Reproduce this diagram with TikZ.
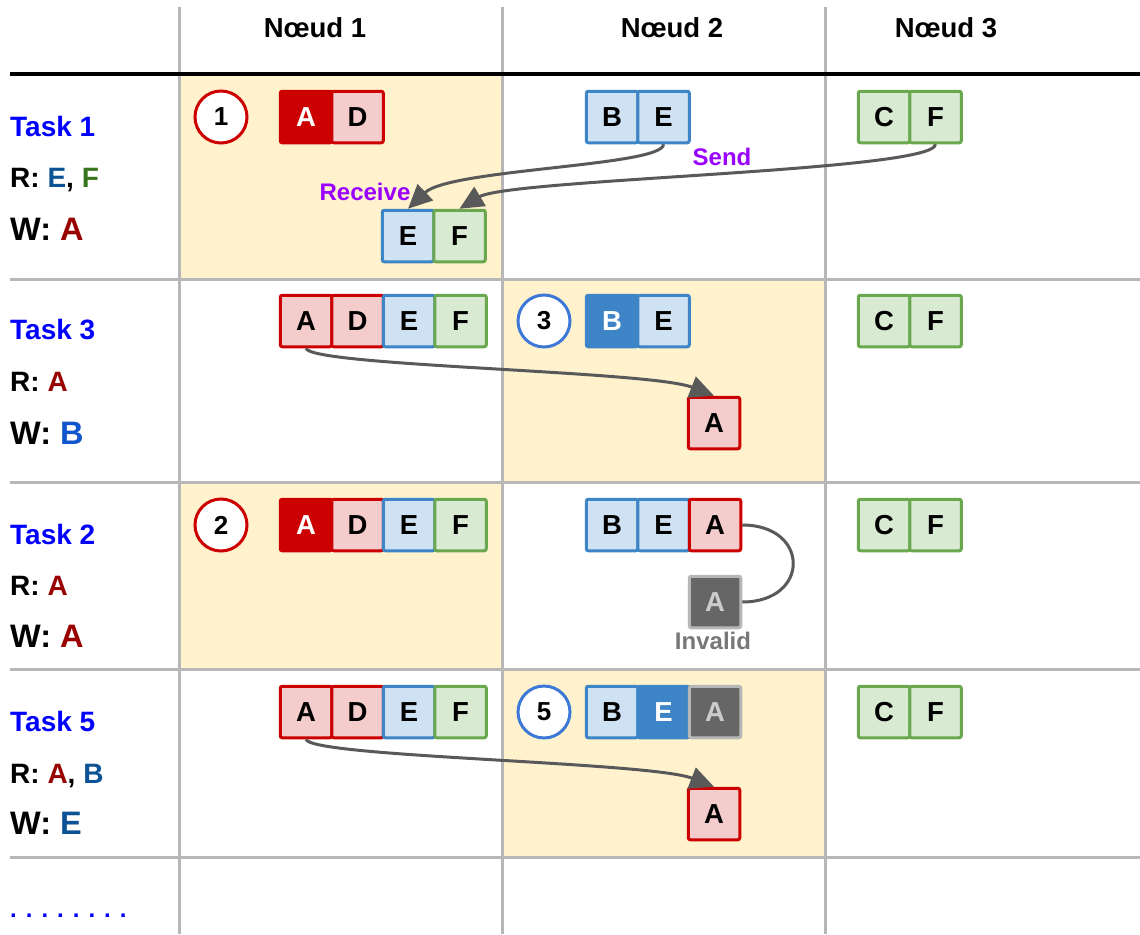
\documentclass[tikz,border=0pt]{standalone}
\usepackage{fontspec}
\setmainfont{Liberation Sans}
\usetikzlibrary{arrows.meta}
\definecolor{redS}{HTML}{CC0000}
\definecolor{redF}{HTML}{F4CCCC}
\definecolor{blueS}{HTML}{3D85C6}
\definecolor{blueF}{HTML}{CFE2F3}
\definecolor{greenS}{HTML}{6AA84F}
\definecolor{greenF}{HTML}{D9EAD3}
\definecolor{greyF}{HTML}{666666}
\definecolor{greyS}{HTML}{B7B7B7}
\definecolor{greyT}{HTML}{CCCCCC}
\definecolor{cellY}{HTML}{FFF2CC}
\definecolor{gridC}{HTML}{B7B7B7}
\definecolor{arrowC}{HTML}{595959}
\definecolor{purpleC}{HTML}{9900FF}
\definecolor{taskC}{HTML}{0000FF}
\definecolor{darkredC}{HTML}{990000}
\definecolor{dblueC}{HTML}{0B5394}
\definecolor{bblueC}{HTML}{1155CC}
\definecolor{dgreenC}{HTML}{38761D}
\definecolor{circB}{HTML}{3C78D8}
\definecolor{invC}{HTML}{777777}
\newcommand\fsz[1]{\fontsize{#1}{#1}\selectfont}
\tikzset{
  cellbox/.style={minimum size=51.5pt, inner sep=0pt, line width=3pt, rounded corners=2pt, font=\fsz{27.5}\bfseries},
  rl/.style={cellbox, draw=redS, fill=redF},
  rd/.style={cellbox, draw=redS, fill=redS, text=white},
  bl/.style={cellbox, draw=blueS, fill=blueF},
  bd/.style={cellbox, draw=blueS, fill=blueS, text=white},
  gl/.style={cellbox, draw=greenS, fill=greenF},
  gr/.style={cellbox, draw=greyS, fill=greyF, text=greyT},
  circ/.style={circle, minimum size=52pt, inner sep=0pt, line width=3pt, fill=white, font=\fsz{26}\bfseries},
  lbl/.style={anchor=base west, inner sep=0pt, font=\fsz{28}\bfseries},
  wlbl/.style={anchor=base west, inner sep=0pt, font=\fsz{32.5}\bfseries},
  hdr/.style={inner sep=0pt, font=\fsz{27.5}\bfseries},
  note/.style={inner sep=0pt, font=\fsz{24}\bfseries},
  gridline/.style={draw=gridC, line width=3pt},
  conn/.style={draw=arrowC, line width=3pt, -{Triangle[length=24pt,width=22pt]}},
  plainconn/.style={draw=arrowC, line width=3pt}
}
\begin{document}
\begin{tikzpicture}[x=1pt,y=-1pt]
\useasboundingbox (0,0) rectangle (1140,934);
\fill[white] (0,0) rectangle (1140,934);
% shaded cells
\fill[cellY] (179.5,74) rectangle (502,279);
\fill[cellY] (502,279) rectangle (825,482.5);
\fill[cellY] (179.5,482.5) rectangle (502,669.5);
\fill[cellY] (502,669.5) rectangle (825,857);
% grid
\foreach \gx in {179.5,502,825} \draw[gridline] (\gx,7) -- (\gx,934);
\foreach \gy in {279,482.5,669.5,857} \draw[gridline] (10,\gy) -- (1140,\gy);
\draw[line width=3pt, black] (10,74) -- (1140,74);
% headers
\node[hdr] (h1) at (315,28) {Nœud 1};
\node[hdr] (h2) at (672,28) {Nœud 2};
\node[hdr] (h3) at (946,28) {Nœud 3};
% left labels
\node[lbl, text=taskC] (t1) at (10,136) {Task 1};
\node[lbl] (r1) at (10,187) {R: \textcolor{dblueC}{E}, \textcolor{dgreenC}{F}};
\node[wlbl] (w1) at (10,240) {W: \textcolor{darkredC}{A}};
\node[lbl, text=taskC] (t3) at (10,339) {Task 3};
\node[lbl] (r3) at (10,391) {R: \textcolor{darkredC}{A}};
\node[wlbl] (w3) at (10,444) {W: \textcolor{bblueC}{B}};
\node[lbl, text=taskC] (t2) at (10,544) {Task 2};
\node[lbl] (r2) at (10,595) {R: \textcolor{darkredC}{A}};
\node[wlbl] (w2) at (10,647) {W: \textcolor{darkredC}{A}};
\node[lbl, text=taskC] (t5) at (10,731) {Task 5};
\node[lbl] (r5) at (10,783) {R: \textcolor{darkredC}{A}, \textcolor{dblueC}{B}};
\node[wlbl] (w5) at (10,834) {W: \textcolor{dblueC}{E}};
\node[anchor=base west, inner sep=0pt, font=\fsz{24}\bfseries, text=taskC] (dots) at (10,917) {.\hskip9pt.\hskip9pt.\hskip9pt.\hskip9pt.\hskip9pt.\hskip9pt.\hskip9pt.};
% row 1 (Task 1)
\node[circ, draw=redS] (c1) at (221,117) {1};
\node[rd] (a1A) at (306,117) {A};
\node[rl] (a1D) at (357.5,117) {D};
\node[bl] (b1B) at (612,117) {B};
\node[bl] (b1E) at (663.5,117) {E};
\node[gl] (c1C) at (884,117) {C};
\node[gl] (c1F) at (935.5,117) {F};
\node[bl] (rE) at (408,236) {E};
\node[gl] (rF) at (459.5,236) {F};
\node[note, text=purpleC] (recv) at (365,192) {Receive};
\node[note, text=purpleC] (send) at (722,157) {Send};
\draw[conn] (b1E.south) .. controls +(0,22) and +(42,-40) .. (rE.north);
\draw[conn] (c1F.south) .. controls +(0,27) and +(50,-30) .. (rF.north);
% row 2 (Task 3)
\node[rl] (a3A) at (306,321) {A};
\node[rl] (a3D) at (357.5,321) {D};
\node[bl] (a3E) at (409,321) {E};
\node[gl] (a3F) at (460.5,321) {F};
\node[circ, draw=circB] (c3) at (544,321) {3};
\node[bd] (b3B) at (612,321) {B};
\node[bl] (b3E) at (663.5,321) {E};
\node[gl] (c3C) at (884,321) {C};
\node[gl] (c3F) at (935.5,321) {F};
\node[rl] (r3A) at (714,423) {A};
\draw[conn] (a3A.south) .. controls +(4,18) and +(-64,-25) .. (r3A.north);
% row 3 (Task 2)
\node[circ, draw=redS] (c2) at (221,525) {2};
\node[rd] (a2A) at (306,525) {A};
\node[rl] (a2D) at (357.5,525) {D};
\node[bl] (a2E) at (409,525) {E};
\node[gl] (a2F) at (460.5,525) {F};
\node[bl] (b2B) at (612,525) {B};
\node[bl] (b2E) at (663.5,525) {E};
\node[rl] (b2A) at (715,525) {A};
\node[gr] (g2A) at (715,602) {A};
\node[note, text=invC] (inv) at (713,641) {Invalid};
\node[gl] (c2C) at (884,525) {C};
\node[gl] (c2F) at (935.5,525) {F};
\draw[plainconn] (b2A.east) .. controls +(68,0) and +(68,0) .. (g2A.east);
% row 4 (Task 5)
\node[rl] (a5A) at (306,712) {A};
\node[rl] (a5D) at (357.5,712) {D};
\node[bl] (a5E) at (409,712) {E};
\node[gl] (a5F) at (460.5,712) {F};
\node[circ, draw=circB] (c5) at (544,712) {5};
\node[bl] (b5B) at (612,712) {B};
\node[bd] (b5E) at (663.5,712) {E};
\node[gr] (b5A) at (715,712) {A};
\node[gl] (c5C) at (884,712) {C};
\node[gl] (c5F) at (935.5,712) {F};
\node[rl] (r5A) at (714,814) {A};
\draw[conn] (a5A.south) .. controls +(4,18) and +(-64,-25) .. (r5A.north);
\end{tikzpicture}
\end{document}
